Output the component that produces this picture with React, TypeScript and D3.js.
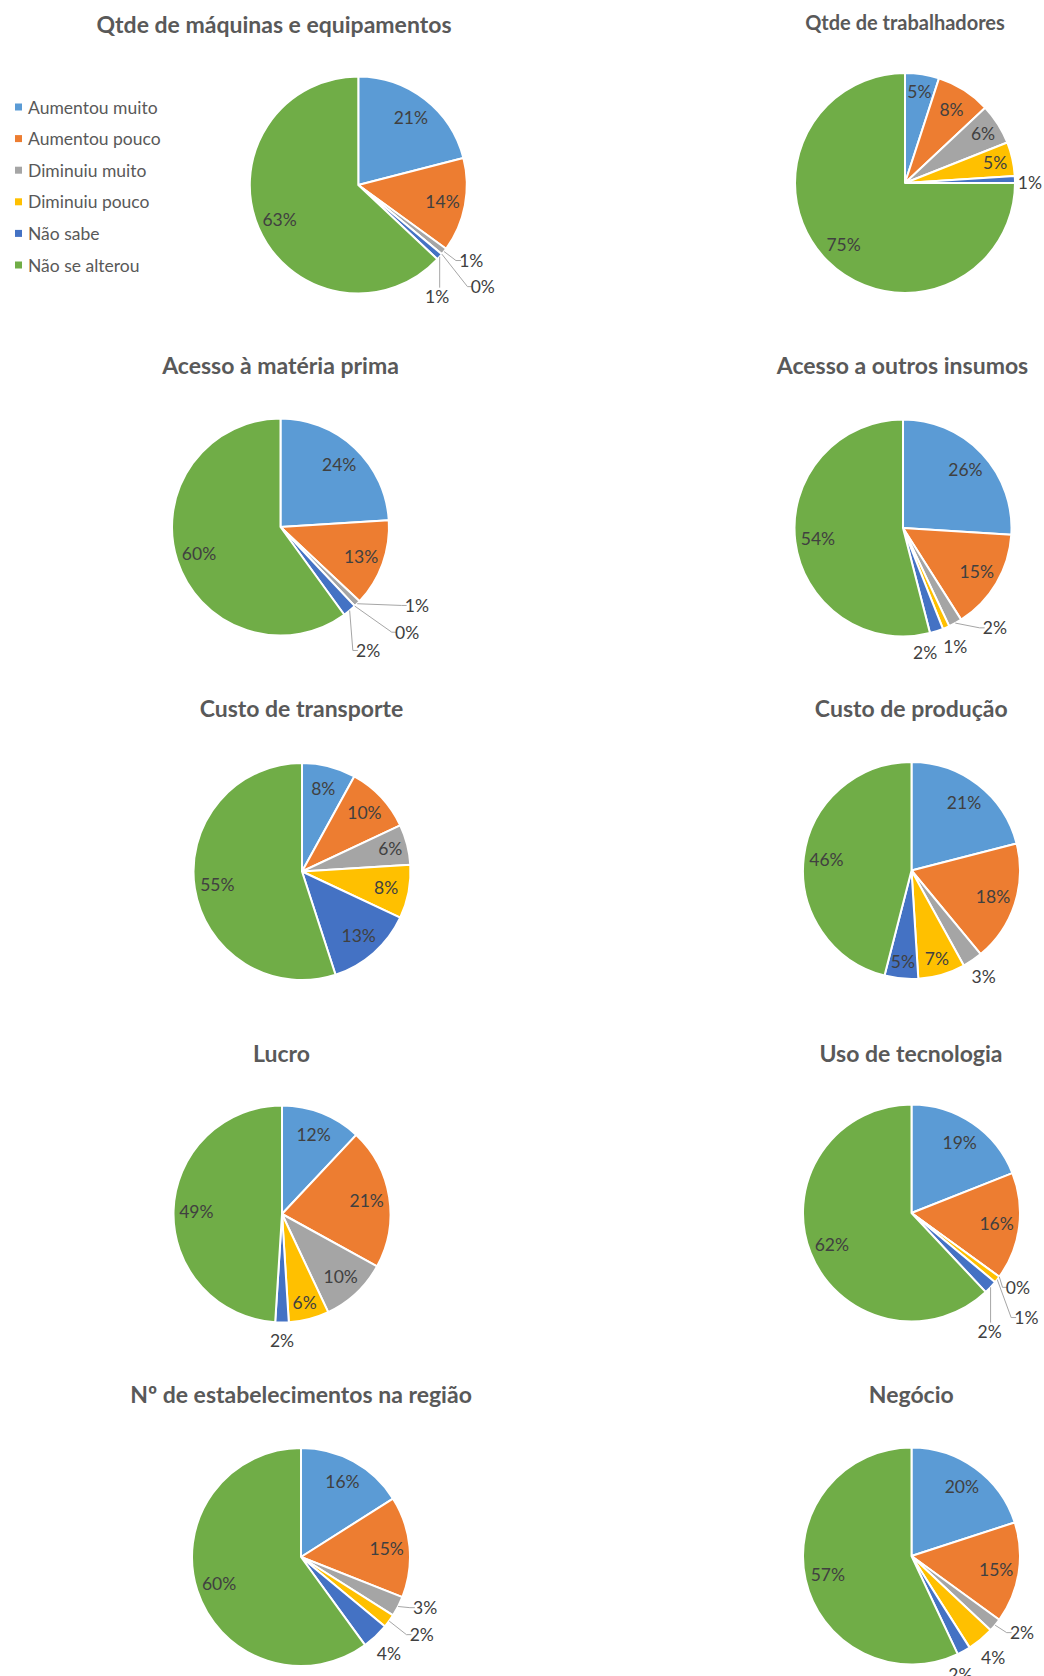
import React from "react";
import * as d3 from "d3";

const categories = ["Aumentou muito", "Aumentou pouco", "Diminuiu muito", "Diminuiu pouco", "Não sabe", "Não se alterou"];
const colors = ["#5B9BD5", "#ED7D31", "#A5A5A5", "#FFC000", "#4472C4", "#70AD47"];

const titles = [
  "Qtde de máquinas e equipamentos",
  "Qtde de trabalhadores",
  "Acesso à matéria prima",
  "Acesso a outros insumos",
  "Custo de transporte",
  "Custo de produção",
  "Lucro",
  "Uso de tecnologia",
  "Nº de estabelecimentos na região",
  "Negócio",
];

const maquinas = [21, 14, 1, 0, 1, 63];
const trabalhadores = [5, 8, 6, 5, 1, 75];
const materiaPrima = [24, 13, 1, 0, 2, 60];
const outrosInsumos = [26, 15, 2, 1, 2, 54];
const custoTransporte = [8, 10, 6, 8, 13, 55];
const custoProducao = [21, 18, 3, 7, 5, 46];
const lucro = [12, 21, 10, 6, 2, 49];
const tecnologia = [19, 16, 0, 1, 2, 62];
const estabelecimentos = [16, 15, 3, 2, 4, 60];
const negocio = [20, 15, 2, 4, 2, 57];

const series = [maquinas, trabalhadores, materiaPrima, outrosInsumos, custoTransporte, custoProducao, lucro, tecnologia, estabelecimentos, negocio];

// layout (positions & sizes)
const layout = [
  { cx: 358.3, cy: 185, r: 108.5, tx: 274, ty: 33, ts: 23 },
  { cx: 905, cy: 183, r: 110, tx: 905, ty: 30, ts: 20 },
  { cx: 280.5, cy: 527, r: 108.5, tx: 280.5, ty: 374, ts: 23 },
  { cx: 903, cy: 528, r: 108.5, tx: 902.5, ty: 374, ts: 23 },
  { cx: 302, cy: 871.5, r: 108.5, tx: 301.5, ty: 716.5, ts: 23 },
  { cx: 911.5, cy: 870.5, r: 108.5, tx: 911.3, ty: 717, ts: 23 },
  { cx: 282, cy: 1214, r: 108.5, tx: 281.5, ty: 1062, ts: 23 },
  { cx: 911.5, cy: 1213, r: 108.5, tx: 911, ty: 1062, ts: 23 },
  { cx: 301, cy: 1557, r: 109, tx: 301, ty: 1403, ts: 23 },
  { cx: 911.5, cy: 1556, r: 108.5, tx: 911.3, ty: 1403, ts: 23 },
];

// outside-label nudges: [sliceIndex, dx, dy, leader]
const nudges: Record<number, [number, number, number, boolean][]> = {
  0: [[2, 13, -2, true], [3, 27, 21, true], [4, -16, 28, true]],
  1: [[4, -3, 4, false]],
  2: [[2, 47, -11, true], [3, 40, 13, true], [4, 7, 26, true]],
  3: [[2, 31, -11, true], [3, 2, 2, false], [4, -17, 4, false]],
  5: [[2, 1, 1, false]],
  6: [[4, 0, 0, false]],
  7: [[2, 4, 0, true], [3, 15, 27, true], [4, -14, 32, true]],
  8: [[2, 11, -7, true], [3, 18, 3, true], [4, 1, 4, false]],
  9: [[2, 13, -4, true], [3, 1, 4, false], [4, -12, 8, false]],
};

const FONT = "Lato, 'Open Sans', sans-serif";
const LABEL_SIZE = 17.5;

function Pie({ idx }: { idx: number }) {
  const data = series[idx];
  const L = layout[idx];
  const pie = d3.pie<number>().sort(null).value((d) => d)(data);
  const arc = d3.arc<d3.PieArcDatum<number>>().innerRadius(0).outerRadius(L.r);
  const nd = nudges[idx] || [];
  return (
    <g>
      <text x={L.tx} y={L.ty} textAnchor="middle" fontFamily={FONT} fontWeight="bold" fontSize={L.ts} fill="#595959">
        {titles[idx]}
      </text>
      <g transform={`translate(${L.cx},${L.cy})`}>
        {pie.map((p, i) => (
          <path key={i} d={arc(p) || ""} fill={colors[i]} stroke="#fff" strokeWidth={2} strokeLinejoin="round" />
        ))}
        {pie.map((p, i) => {
          const mid = (p.startAngle + p.endAngle) / 2;
          const s = Math.sin(mid), c = -Math.cos(mid);
          const txt = `${data[i]}%`;
          const out = data[i] <= 4;
          let x: number, y: number;
          let leader: string | null = null;
          if (!out) {
            const f = data[i] < 8 ? 0.84 : 0.79;
            x = s * L.r * f;
            y = c * L.r * f;
          } else {
            const R = L.r + 18;
            const n = nd.find((q) => q[0] === i) || [i, 0, 0, false];
            x = s * R + n[1];
            y = c * R + n[2];
            if (n[3]) {
              const sx = s * L.r, sy = c * L.r;
              const w = txt.length * 9.3;
              const left = x - w / 2;
              if (left > sx + 4) {
                leader = `M${sx},${sy}L${left - 6},${y}L${left - 1},${y}`;
              } else {
                leader = `M${sx},${sy}L${sx},${y - 9}`;
              }
            }
          }
          return (
            <g key={"l" + i}>
              {leader && <path d={leader} fill="none" stroke="#A6A6A6" strokeWidth={1} />}
              <text x={x} y={y} textAnchor="middle" dominantBaseline="central" fontFamily={FONT} fontSize={LABEL_SIZE} fill="#404040">
                {txt}
              </text>
            </g>
          );
        })}
      </g>
    </g>
  );
}

function Legend() {
  const y0 = 107;
  const step = 31.6;
  return (
    <g>
      {categories.map((c, i) => (
        <g key={c}>
          <rect x={15} y={y0 + i * step - 3.5} width={7} height={7} fill={colors[i]} />
          <text x={28} y={y0 + i * step} dominantBaseline="central" fontFamily={FONT} fontSize={17.5} fill="#595959">
            {c}
          </text>
        </g>
      ))}
    </g>
  );
}

export default function App() {
  return (
    <svg width={1044} height={1676} style={{ position: "absolute", left: 0, top: 0, background: "#fff" }}>
      <rect width={1044} height={1676} fill="#fff" />
      <Legend />
      {series.map((_, i) => (
        <Pie key={i} idx={i} />
      ))}
    </svg>
  );
}
